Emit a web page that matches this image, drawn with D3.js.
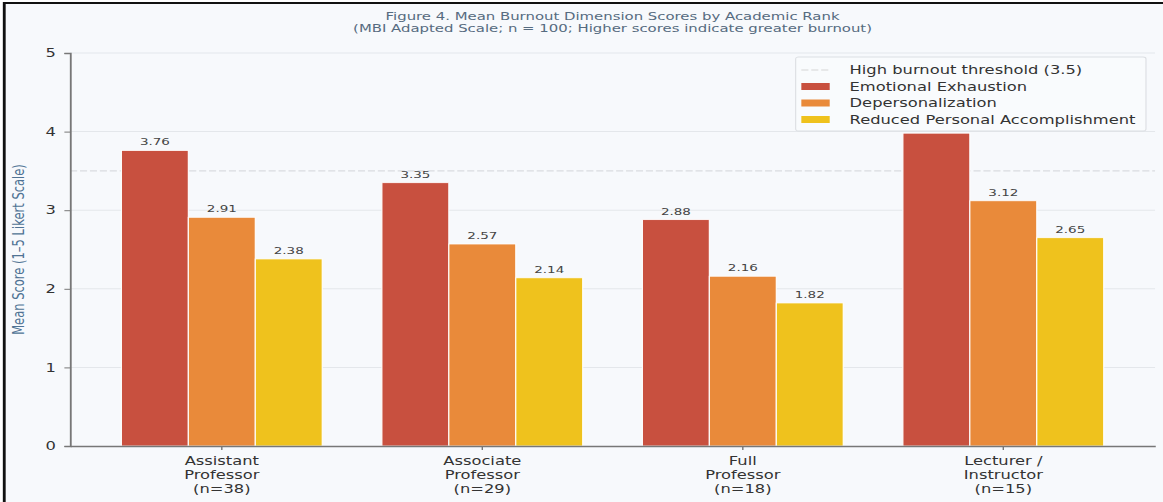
<!DOCTYPE html>
<html>
<head>
<meta charset="utf-8">
<script src="https://cdn.jsdelivr.net/npm/d3@7"></script>
<style>
  html, body { margin: 0; padding: 0; background: #fff; }
  svg { display: block; }
  text { font-family: 'DejaVu Sans', sans-serif; }
</style>
</head>
<body>
<div id="chart"></div>
<script>
// data
const ranks = ['Assistant Professor (n=38)', 'Associate Professor (n=29)', 'Full Professor (n=18)', 'Lecturer / Instructor (n=15)']
const rankLines = [
  ['Assistant', 'Professor', '(n=38)'],
  ['Associate', 'Professor', '(n=29)'],
  ['Full', 'Professor', '(n=18)'],
  ['Lecturer /', 'Instructor', '(n=15)']
]
const series = ['Emotional Exhaustion', 'Depersonalization', 'Reduced Personal Accomplishment']
const seriesColors = ['#c8503f', '#e98a3a', '#efc21d']
const emotionalExhaustion = [3.76, 3.35, 2.88, 3.98]
const depersonalization = [2.91, 2.57, 2.16, 3.12]
const reducedAccomplishment = [2.38, 2.14, 1.82, 2.65]
const yTicks = [0, 1, 2, 3, 4, 5]
const threshold = 3.5
const thresholdLabel = 'High burnout threshold (3.5)'

const WIDTH = 1163
const HEIGHT = 502
// the figure is drawn narrow and stretched to the window, like the source image
const W0 = 820

const values = [emotionalExhaustion, depersonalization, reducedAccomplishment]
const rows = ranks.map((r, i) => ({ rank: r, i, vals: series.map((s, j) => ({ s, j, v: values[j][i] })) }))

const svg = d3.select('#chart')
  .append('svg')
  .attr('width', WIDTH)
  .attr('height', HEIGHT)
  .attr('viewBox', `0 0 ${W0} ${HEIGHT}`)
  .attr('preserveAspectRatio', 'none')

svg.append('rect').attr('width', W0).attr('height', HEIGHT).attr('fill', '#fff')
svg.append('rect').attr('x', 3).attr('y', 3).attr('width', W0).attr('height', HEIGHT).attr('fill', '#f7f9fc')
// black frame on the left and top
svg.append('path').attr('d', `M3,${HEIGHT} V3 H${W0}`)
  .attr('fill', 'none').attr('stroke', '#111').attr('stroke-width', 2)

const margin = { left: 49.4, right: 814.4, top: 53, bottom: 446 }
const legendBox = { x: 561, y: 57, w: 247, h: 74 }

const x0 = d3.scaleBand()
  .domain(ranks)
  .range([margin.left, margin.right])
  .paddingInner(0.229)
  .paddingOuter(0.197)
const x1 = d3.scaleBand()
  .domain(series)
  .range([0, x0.bandwidth()])
const y = d3.scaleLinear().domain([0, 5]).range([margin.bottom, margin.top])
const color = d3.scaleOrdinal().domain(series).range(seriesColors)

// grid
svg.append('g')
  .selectAll('line')
  .data(yTicks.filter(t => t > 0))
  .enter()
  .append('line')
  .attr('x1', margin.left)
  .attr('x2', margin.right)
  .attr('y1', d => y(d))
  .attr('y2', d => y(d))
  .attr('stroke', '#e4e7eb')
  .attr('stroke-width', 1)

// threshold
svg.append('line')
  .attr('x1', margin.left)
  .attr('x2', margin.right)
  .attr('y1', y(threshold))
  .attr('y2', y(threshold))
  .attr('stroke', '#dadcdf')
  .attr('stroke-width', 1.2)
  .attr('stroke-dasharray', '5,2')

// bars
const group = svg.append('g')
  .selectAll('g')
  .data(rows)
  .enter()
  .append('g')
  .attr('transform', d => `translate(${x0(d.rank)},0)`)

group.selectAll('rect')
  .data(d => d.vals)
  .enter()
  .append('rect')
  .attr('x', d => x1(d.s))
  .attr('y', d => y(d.v))
  .attr('width', x1.bandwidth())
  .attr('height', d => y(0) - y(d.v))
  .attr('fill', d => color(d.s))
  .attr('stroke', '#fff')
  .attr('stroke-width', 0.8)

// value labels; the one that falls under the legend is hidden in the source
const labelPos = d => ({ x: x0(ranks[d.i]) + x1(d.s) + x1.bandwidth() / 2, y: y(d.v) - 5 })
const underLegend = p => p.x > legendBox.x && p.x < legendBox.x + legendBox.w &&
  p.y - 8 < legendBox.y + legendBox.h && p.y > legendBox.y
group.selectAll('text')
  .data(d => d.vals.map(v => Object.assign({ i: d.i }, v)).filter(v => !underLegend(labelPos(v))))
  .enter()
  .append('text')
  .attr('x', d => x1(d.s) + x1.bandwidth() / 2)
  .attr('y', d => y(d.v) - 5)
  .attr('text-anchor', 'middle')
  .attr('font-size', 9.5)
  .attr('fill', '#444')
  .text(d => d.v.toFixed(2))

// axes
const yAxis = svg.append('g')
  .attr('transform', `translate(${margin.left},0)`)
  .call(d3.axisLeft(y).tickValues(yTicks).tickFormat(d3.format('d')).tickSize(4).tickPadding(6))
yAxis.select('.domain').attr('stroke', '#777').attr('stroke-width', 1.3)
yAxis.selectAll('.tick line').attr('stroke', '#777')
yAxis.selectAll('.tick text').attr('font-size', 11.5).attr('fill', '#333').attr('font-family', 'DejaVu Sans')

const xAxis = svg.append('g')
  .attr('transform', `translate(0,${margin.bottom})`)
  .call(d3.axisBottom(x0).tickSize(4).tickSizeOuter(0).tickFormat(''))
xAxis.select('.domain').attr('stroke', '#777').attr('stroke-width', 1.3)
xAxis.selectAll('.tick line').attr('stroke', '#777')
xAxis.selectAll('.tick')
  .append('text')
  .attr('text-anchor', 'middle')
  .attr('font-size', 11.5)
  .attr('fill', '#333')
  .attr('font-family', 'DejaVu Sans')
  .selectAll('tspan')
  .data((d, i) => rankLines[i])
  .enter()
  .append('tspan')
  .attr('x', 0)
  .attr('y', (d, k) => 19 + k * 14)
  .text(d => d)

// y label
svg.append('text')
  .attr('transform', `translate(17,${(margin.top + margin.bottom) / 2}) rotate(-90)`)
  .attr('text-anchor', 'middle')
  .attr('font-size', 11.5)
  .attr('font-family', 'Open Sans')
  .attr('fill', '#4f7394')
  .text('Mean Score (1–5 Likert Scale)')

// title
const title = svg.append('text')
  .attr('text-anchor', 'middle')
  .attr('font-size', 10.5)
  .attr('fill', '#566b80')
title.append('tspan').attr('x', (margin.left + margin.right) / 2).attr('y', 20)
  .text('Figure 4. Mean Burnout Dimension Scores by Academic Rank')
title.append('tspan').attr('x', (margin.left + margin.right) / 2).attr('y', 32)
  .text('(MBI Adapted Scale; n = 100; Higher scores indicate greater burnout)')

// legend
const lg = svg.append('g').attr('transform', `translate(${legendBox.x},${legendBox.y})`)
lg.append('rect')
  .attr('width', legendBox.w)
  .attr('height', legendBox.h)
  .attr('rx', 2)
  .attr('fill', '#f9fbfd')
  .attr('stroke', '#dcdfe3')
  .attr('stroke-width', 0.8)
const legendItems = [{ label: thresholdLabel, kind: 'line' }]
  .concat(series.map(s => ({ label: s, kind: 'bar', color: color(s) })))
const item = lg.selectAll('.item')
  .data(legendItems)
  .enter()
  .append('g')
  .attr('class', 'item')
  .attr('transform', (d, i) => `translate(0,${13 + i * 16.5})`)
item.filter(d => d.kind === 'line')
  .append('line')
  .attr('x1', 4).attr('x2', 24)
  .attr('stroke', '#d6d6d6')
  .attr('stroke-width', 1.2)
  .attr('stroke-dasharray', '5,2')
item.filter(d => d.kind === 'bar')
  .append('rect')
  .attr('x', 4).attr('y', -3.5)
  .attr('width', 20).attr('height', 7)
  .attr('fill', d => d.color)
item.append('text')
  .attr('x', 38)
  .attr('y', 4)
  .attr('font-size', 11.5)
  .attr('fill', '#333')
  .text(d => d.label)
</script>
</body>
</html>
